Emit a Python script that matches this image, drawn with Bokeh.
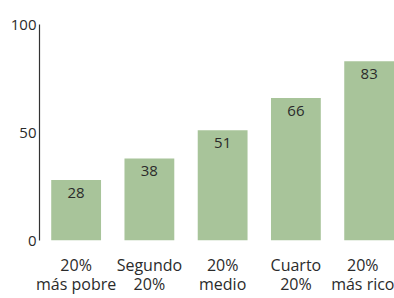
from bokeh.plotting import figure
from bokeh.models import ColumnDataSource, Range1d, FixedTicker, LabelSet
from bokeh.core.properties import value
from bokeh.embed import file_html
from bokeh.resources import INLINE

categories = ["20%\nmás pobre", "Segundo\n20%", "20%\nmedio", "Cuarto\n20%", "20%\nmás rico"]
values = [28, 38, 51, 66, 83]
y_ticks = [0, 50, 100]

FONT = "Open Sans"
TXT = "#2b2b2b"
GREEN = "#a8c49a"

xs = list(range(len(categories)))
src = ColumnDataSource(dict(x=xs, top=values, lab=[str(v) for v in values]))

p = figure(width=394, height=298, output_backend="svg", toolbar_location=None,
           x_range=Range1d(-0.5, 4.346), y_range=Range1d(0, 100),
           min_border_left=39, min_border_top=24, min_border_bottom=57, min_border_right=0)
p.outline_line_color = None
p.grid.visible = False

p.vbar(x="x", top="top", width=0.68, bottom=0, source=src, fill_color=GREEN, line_color=None)

labels = LabelSet(x="x", y="top", text="lab", source=src, text_align="center", text_baseline="top",
                  y_offset=-8, text_font=value(FONT), text_font_size=value("15px"),
                  text_color=value(TXT))
p.add_layout(labels)

# y axis
p.yaxis.ticker = FixedTicker(ticks=y_ticks)
p.yaxis.axis_line_color = "#333333"
p.yaxis.axis_line_width = 1.2
p.yaxis.major_tick_line_color = None
p.yaxis.minor_tick_line_color = None
p.yaxis.major_tick_out = 0
p.yaxis.major_label_standoff = 3
p.yaxis.major_label_text_font = FONT
p.yaxis.major_label_text_font_size = "15px"
p.yaxis.major_label_text_color = TXT

# x axis
p.xaxis.ticker = FixedTicker(ticks=xs)
p.xaxis.major_label_overrides = {i: c for i, c in zip(xs, categories)}
p.xaxis.axis_line_color = None
p.xaxis.major_tick_line_color = None
p.xaxis.minor_tick_line_color = None
p.xaxis.major_tick_out = 0
p.xaxis.major_label_standoff = 13
p.xaxis.major_label_text_font = FONT
p.xaxis.major_label_text_font_size = "16px"
p.xaxis.major_label_text_line_height = 0.9
p.xaxis.major_label_text_color = TXT

open("out.html", "w").write(file_html(p, INLINE))
